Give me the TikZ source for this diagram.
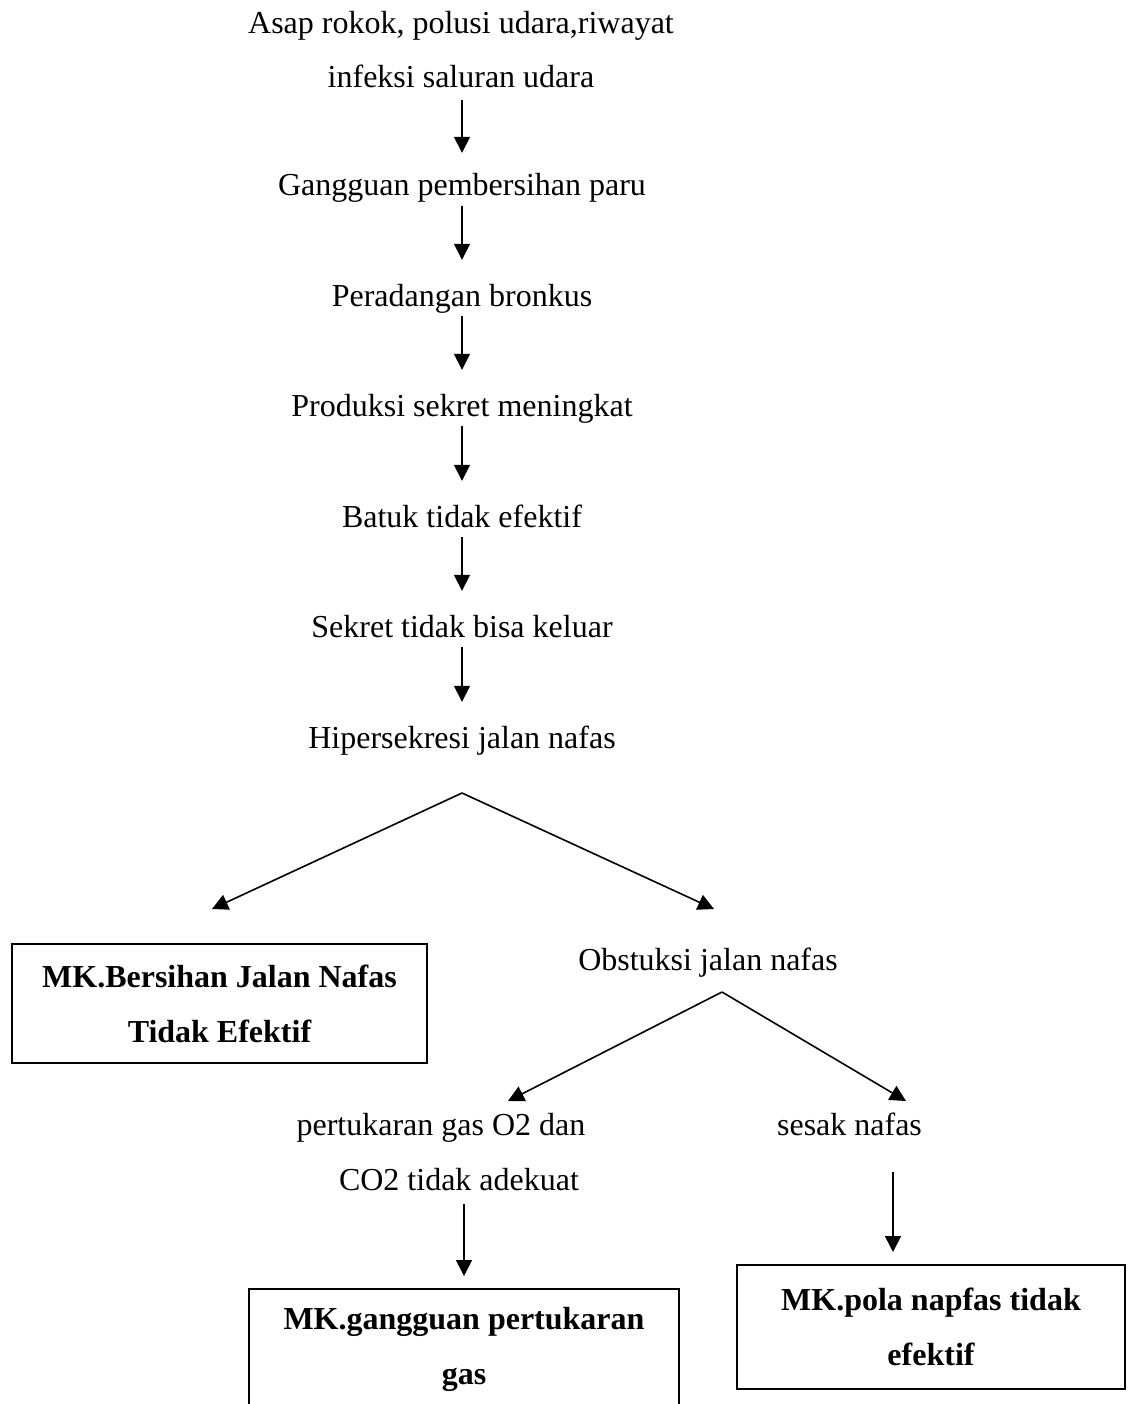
\documentclass[tikz,border=0pt]{standalone}
\usepackage{fontspec}
\setmainfont{Liberation Serif}
\usetikzlibrary{arrows.meta}

\begin{document}
\begin{tikzpicture}[x=1pt,y=-1pt,inner sep=0pt,
  font=\fontsize{32}{54}\selectfont,
  txt/.style={anchor=base,text height=22pt,text depth=7pt},
  mk/.style={draw,line width=2pt,align=center,font=\fontsize{32}{55}\selectfont\bfseries},
  arr/.style={-{Triangle[length=16pt,width=16pt]},line width=1.6pt,shorten <=3pt,shorten >=24pt},
  cab/.style={-{Triangle[length=16pt,width=16pt]},line width=1.6pt}]

\useasboundingbox (0,0) rectangle (1130,1404);

\node(asap) [anchor=north,align=center] at (461,11) {Asap rokok, polusi udara,riwayat\\infeksi saluran udara};
\node(gang) [txt] at (462,196) {Gangguan pembersihan paru};
\node(rad) [txt] at (462,306) {Peradangan bronkus};
\node(prod) [txt] at (462,416) {Produksi sekret meningkat};
\node(batuk) [txt] at (462,527) {Batuk tidak efektif};
\node(sekret) [txt] at (462,637) {Sekret tidak bisa keluar};
\node(hiper) [txt] at (462,748) {Hipersekresi jalan nafas};

\draw[arr,shorten <=12pt,shorten >=21pt] (asap.south -| gang) -- (gang);
\draw[arr] (gang) -- (rad);
\draw[arr] (rad) -- (prod);
\draw[arr] (prod) -- (batuk);
\draw[arr] (batuk) -- (sekret);
\draw[arr] (sekret) -- (hiper);

% cabang pertama
\coordinate(c1) at (462,793);
\coordinate(c1l) at (212,909);
\coordinate(c1r) at (714,909);
\draw[cab] (c1) -- (c1l);
\draw[cab] (c1) -- (c1r);

\node(bjn) [mk,minimum width=415pt,minimum height=119pt] at (219.5,1003.5) {MK.Bersihan Jalan Nafas\\Tidak Efektif};
\node(obst) [txt] at (708,970) {Obstuksi jalan nafas};

% cabang kedua
\coordinate(c2) at (722,992);
\coordinate(c2l) at (508,1101);
\coordinate(c2r) at (906,1101);
\draw[cab] (c2) -- (c2l);
\draw[cab] (c2) -- (c2r);

\node(pert) [anchor=north,align=center,font=\fontsize{32}{55}\selectfont] at (449,1113) {pertukaran gas O2 dan\hspace*{16pt}\\\hspace*{20pt}CO2 tidak adekuat};
\node(sesak) [txt] at (849.5,1135) {sesak nafas};

\node(gbox) [mk,minimum width=430pt,minimum height=120pt] at (464,1349) {MK.gangguan pertukaran\\gas};
\node(pbox) [mk,minimum width=388pt,minimum height=124pt] at (931,1327) {MK.pola napfas tidak\\efektif};

\draw[arr,shorten <=13pt,shorten >=12pt] (pert.south -| gbox.north) -- (gbox.north);
\draw[arr,shorten <=30pt,shorten >=12pt] ([xshift=43.5pt]sesak.south) -- ([xshift=-38pt]pbox.north);

\end{tikzpicture}
\end{document}
